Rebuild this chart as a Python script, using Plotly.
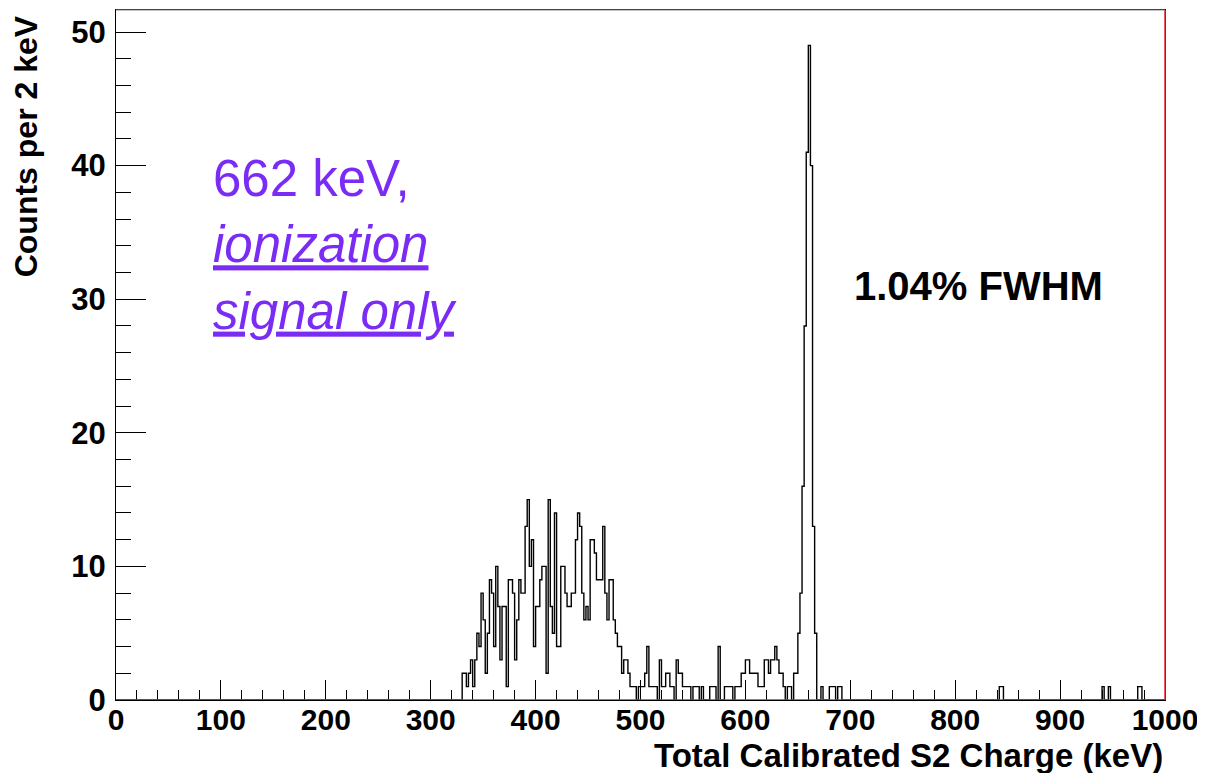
import numpy as np
import plotly.graph_objects as go

# ---- data (counts per 2 keV bin) ----
bin_width = 2
x_min, x_max = 0, 1000

# contiguous region: bins starting at 330 keV, 332 keV, ...
main_start = 330
main_counts = [
    2, 2, 1, 2, 3, 1, 3, 5, 4, 8,        # 330-348
    6, 2, 5, 9, 8, 4, 10, 7, 3, 7,       # 350-368
    7, 1, 9, 9, 8, 3, 6, 9, 8, 8,        # 370-388
    13, 15, 10, 12, 4, 7, 7, 9, 10, 10,  # 390-408
    2, 15, 7, 5, 14, 4, 4, 10, 10, 8,    # 410-428
    7, 7, 8, 8, 12, 14, 13, 8, 6, 7,     # 430-448
    6, 12, 12, 11, 9, 9, 9, 13, 8, 6,    # 450-468
    9, 9, 6, 5, 4, 4, 2, 3, 3, 2,        # 470-488
    1, 1, 1, 0, 1, 1, 1, 2, 4, 1,        # 490-508
    1, 1, 1, 0, 3, 1, 1, 2, 2, 1,        # 510-528
    1, 0, 3, 2, 2, 1, 1, 1, 1, 0,        # 530-548
    1, 1, 1, 0, 1, 0, 0, 0, 1, 1,        # 550-568
    1, 0, 4, 0, 0, 1, 1, 1, 1, 0,        # 570-588
    1, 1, 1, 2, 2, 3, 3, 2, 2, 2,        # 590-608
    2, 1, 1, 1, 3, 3, 2, 3, 3, 4,        # 610-628
    3, 2, 2, 1, 0, 1, 1, 0, 2, 2,        # 630-648
    5, 8, 16, 28, 41, 49, 40, 13, 5, 0,  # 650-668
    0,                                   # 670
]

# sparse single counts above the photopeak
tail_bins = [672, 680, 682, 684, 688, 690, 842, 844, 940, 946, 974, 976]
tail_counts = [1, 1, 1, 1, 1, 1, 1, 1, 1, 1, 1, 1]

x_ticks = [0, 100, 200, 300, 400, 500, 600, 700, 800, 900, 1000]
y_ticks = [0, 10, 20, 30, 40, 50]

# ---- build full histogram ----
n_bins = (x_max - x_min) // bin_width
counts = np.zeros(n_bins)
for i, c in enumerate(main_counts):
    b = (main_start + i * bin_width - x_min) // bin_width
    counts[b] = c
for b0, c in zip(tail_bins, tail_counts):
    counts[(b0 - x_min) // bin_width] = c

edges = np.arange(x_min, x_max + bin_width, bin_width)
y_step = np.append(counts, counts[-1])

FONT = "Liberation Sans"
PURPLE = "#7a2cf5"

fig = go.Figure()
fig.add_trace(go.Scatter(
    x=edges, y=y_step, mode="lines", line=dict(color="black", width=1.4, shape="hv"),
    hoverinfo="skip", showlegend=False,
))

fig.update_layout(
    width=1205, height=773,
    margin=dict(l=108, r=48, t=2, b=81),
    paper_bgcolor="white", plot_bgcolor="white",
    showlegend=False,
    xaxis=dict(
        range=[x_min, x_max], tickvals=x_ticks, ticktext=[str(v) for v in x_ticks],
        ticks="inside", ticklen=20, tickwidth=1, tickcolor="black",
        minor=dict(dtick=20, tick0=0, ticks="inside", ticklen=10, tickcolor="black", tickwidth=1),
        showgrid=False, zeroline=False, showline=True, linecolor="black", linewidth=1, mirror=True,
        tickfont=dict(family=FONT, size=30, color="black", weight="bold"),
        ticklabelstandoff=-7, automargin=False,
    ),
    yaxis=dict(
        range=[0, 51.65], tickvals=y_ticks, ticktext=[str(v) for v in y_ticks],
        ticks="inside", ticklen=30, tickwidth=1, tickcolor="black",
        minor=dict(dtick=2, tick0=0, ticks="inside", ticklen=15, tickcolor="black", tickwidth=1),
        showgrid=False, zeroline=False, showline=True, linecolor="black", linewidth=1, mirror=True,
        tickfont=dict(family=FONT, size=31, color="black", weight="bold"),
        ticklabelstandoff=3, automargin=False,
    ),
)

# ROOT-style red baseline and right border
fig.add_shape(type="line", xref="x", yref="y", x0=x_min, x1=x_max, y0=0, y1=0,
              line=dict(color="#e8202a", width=1.5), layer="above")
fig.add_shape(type="line", xref="paper", yref="paper", x0=1, x1=1, y0=0, y1=1,
              line=dict(color="#e8202a", width=1.5), layer="above")
fig.add_shape(type="line", xref="paper", yref="paper", x0=0, x1=1, y0=1, y1=1,
              line=dict(color="#888888", width=1), layer="above")

# axis titles (ROOT: right/top aligned)
fig.add_annotation(text="<b>Counts per 2 keV</b>", xref="paper", yref="paper",
                   x=-0.085, y=0.995, xanchor="center", yanchor="top", textangle=-90,
                   showarrow=False, font=dict(family=FONT, size=32, color="black"))
fig.add_annotation(text="<b>Total Calibrated S2 Charge (keV)</b>", xref="paper", yref="paper",
                   x=1.0, y=-0.081, xanchor="right", yanchor="middle",
                   showarrow=False, font=dict(family=FONT, size=33, color="black"))

# in-plot labels
fig.add_annotation(text="<b>1.04% FWHM</b>", xref="x", yref="y", x=822, y=31,
                   xanchor="center", yanchor="middle", showarrow=False,
                   font=dict(family=FONT, size=40, color="black"))
fig.add_annotation(
    text=("662 keV,<br>"
          "<span style=\"text-decoration:underline\"><i>ionization</i></span><br>"
          "<span style=\"text-decoration:underline\"><i>signal only</i></span>"),
    xref="x", yref="y", x=90.5, y=41.3, xanchor="left", yanchor="top", align="left",
    showarrow=False, font=dict(family=FONT, size=51, color=PURPLE))

fig.write_html("out.html")
